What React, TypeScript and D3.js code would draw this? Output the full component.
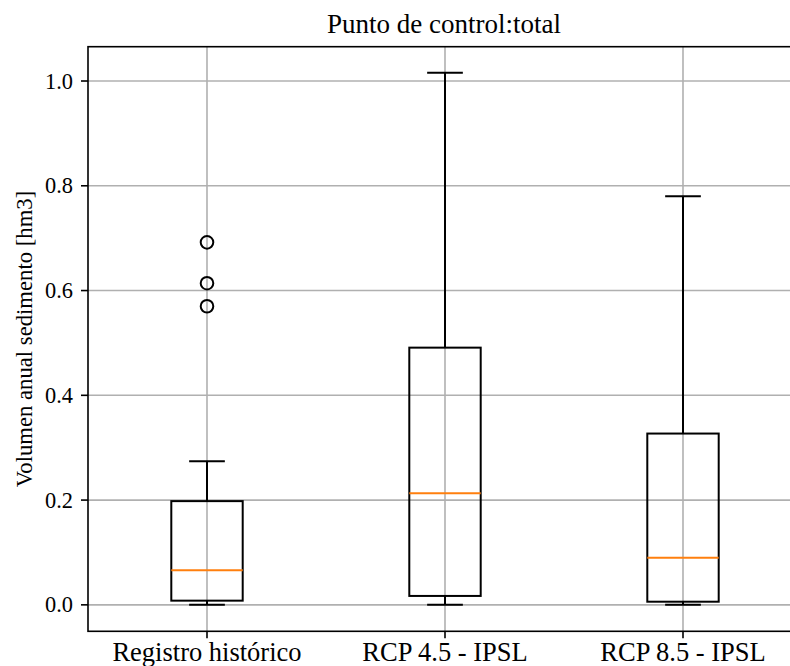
import React from 'react';
import * as d3 from 'd3';

// values
const categories = ['Registro histórico', 'RCP 4.5 - IPSL', 'RCP 8.5 - IPSL'];
const whiskerLow = [0.0, 0.0, 0.0];
const q1 = [0.008, 0.017, 0.006];
const median = [0.066, 0.213, 0.09];
const q3 = [0.198, 0.491, 0.327];
const whiskerHigh = [0.274, 1.016, 0.78];
const outliers = [[0.57, 0.614, 0.692], [], []];
const yTicks = [0.0, 0.2, 0.4, 0.6, 0.8, 1.0];

const W = 790;
const H = 666;
const left = 88;
const right = 802; // right spine falls just outside the picture
const top = 46.7;
const bottom = 631.3;
const font = '"Liberation Serif", "Times New Roman", serif';

const App = () => {
  const x = d3.scaleLinear().domain([0.5, 3.5]).range([left, right]);
  const y = d3.scaleLinear().domain([-0.0505, 1.0655]).range([bottom, top]);
  const boxHalf = 0.15;
  const capHalf = 0.075;

  const boxes = categories.map((c, i) => ({
    name: c,
    pos: i + 1,
    lo: whiskerLow[i],
    q1: q1[i],
    med: median[i],
    q3: q3[i],
    hi: whiskerHigh[i],
    fliers: outliers[i],
  }));

  return (
    <svg
      width={W}
      height={H}
      style={{ position: 'absolute', left: 0, top: 0, background: '#fff' }}
      fontFamily={font}
    >
      {/* grid */}
      <g stroke="#b0b0b0" strokeWidth={1.6}>
        {yTicks.map(t => (
          <line key={'gy' + t} x1={left} x2={right} y1={y(t)} y2={y(t)} />
        ))}
        {boxes.map(b => (
          <line key={'gx' + b.pos} x1={x(b.pos)} x2={x(b.pos)} y1={top} y2={bottom} />
        ))}
      </g>

      {/* boxes */}
      {boxes.map(b => (
        <g key={b.name} fill="none">
          <rect
            x={x(b.pos - boxHalf)}
            y={y(b.q3)}
            width={x(b.pos + boxHalf) - x(b.pos - boxHalf)}
            height={y(b.q1) - y(b.q3)}
            stroke="#000"
            strokeWidth={2}
          />
          <line x1={x(b.pos)} x2={x(b.pos)} y1={y(b.q1)} y2={y(b.lo)} stroke="#000" strokeWidth={2} />
          <line x1={x(b.pos)} x2={x(b.pos)} y1={y(b.q3)} y2={y(b.hi)} stroke="#000" strokeWidth={2} />
          <line x1={x(b.pos - capHalf)} x2={x(b.pos + capHalf)} y1={y(b.lo)} y2={y(b.lo)} stroke="#000" strokeWidth={2} />
          <line x1={x(b.pos - capHalf)} x2={x(b.pos + capHalf)} y1={y(b.hi)} y2={y(b.hi)} stroke="#000" strokeWidth={2} />
          <line x1={x(b.pos - boxHalf)} x2={x(b.pos + boxHalf)} y1={y(b.med)} y2={y(b.med)} stroke="#ff7f0e" strokeWidth={2} />
          {b.fliers.map(v => (
            <circle key={v} cx={x(b.pos)} cy={y(v)} r={6.3} stroke="#000" strokeWidth={2} />
          ))}
        </g>
      ))}

      {/* spines */}
      <g stroke="#000" strokeWidth={1.6} fill="none">
        <rect x={left} y={top} width={right - left} height={bottom - top} />
      </g>

      {/* y ticks */}
      <g>
        {yTicks.map(t => (
          <g key={'ty' + t}>
            <line x1={left - 7} x2={left} y1={y(t)} y2={y(t)} stroke="#000" strokeWidth={1.6} />
            <text x={73} y={y(t) + 7.5} textAnchor="end" fontSize={22.4} fill="#000">
              {d3.format('.1f')(t)}
            </text>
          </g>
        ))}
      </g>

      {/* x ticks */}
      <g>
        {boxes.map(b => (
          <g key={'tx' + b.pos}>
            <line x1={x(b.pos)} x2={x(b.pos)} y1={bottom} y2={bottom + 7} stroke="#000" strokeWidth={1.6} />
            <text x={x(b.pos)} y={661} textAnchor="middle" fontSize={26.5} fill="#000">
              {b.name}
            </text>
          </g>
        ))}
      </g>

      {/* labels */}
      <text
        transform={`translate(32,${(top + bottom) / 2}) rotate(-90)`}
        textAnchor="middle"
        fontSize={22.7}
        fill="#000"
      >
        Volumen anual sedimento [hm3]
      </text>
      <text x={444} y={33} textAnchor="middle" fontSize={27} fill="#000">
        Punto de control:total
      </text>
    </svg>
  );
};

export default App;
